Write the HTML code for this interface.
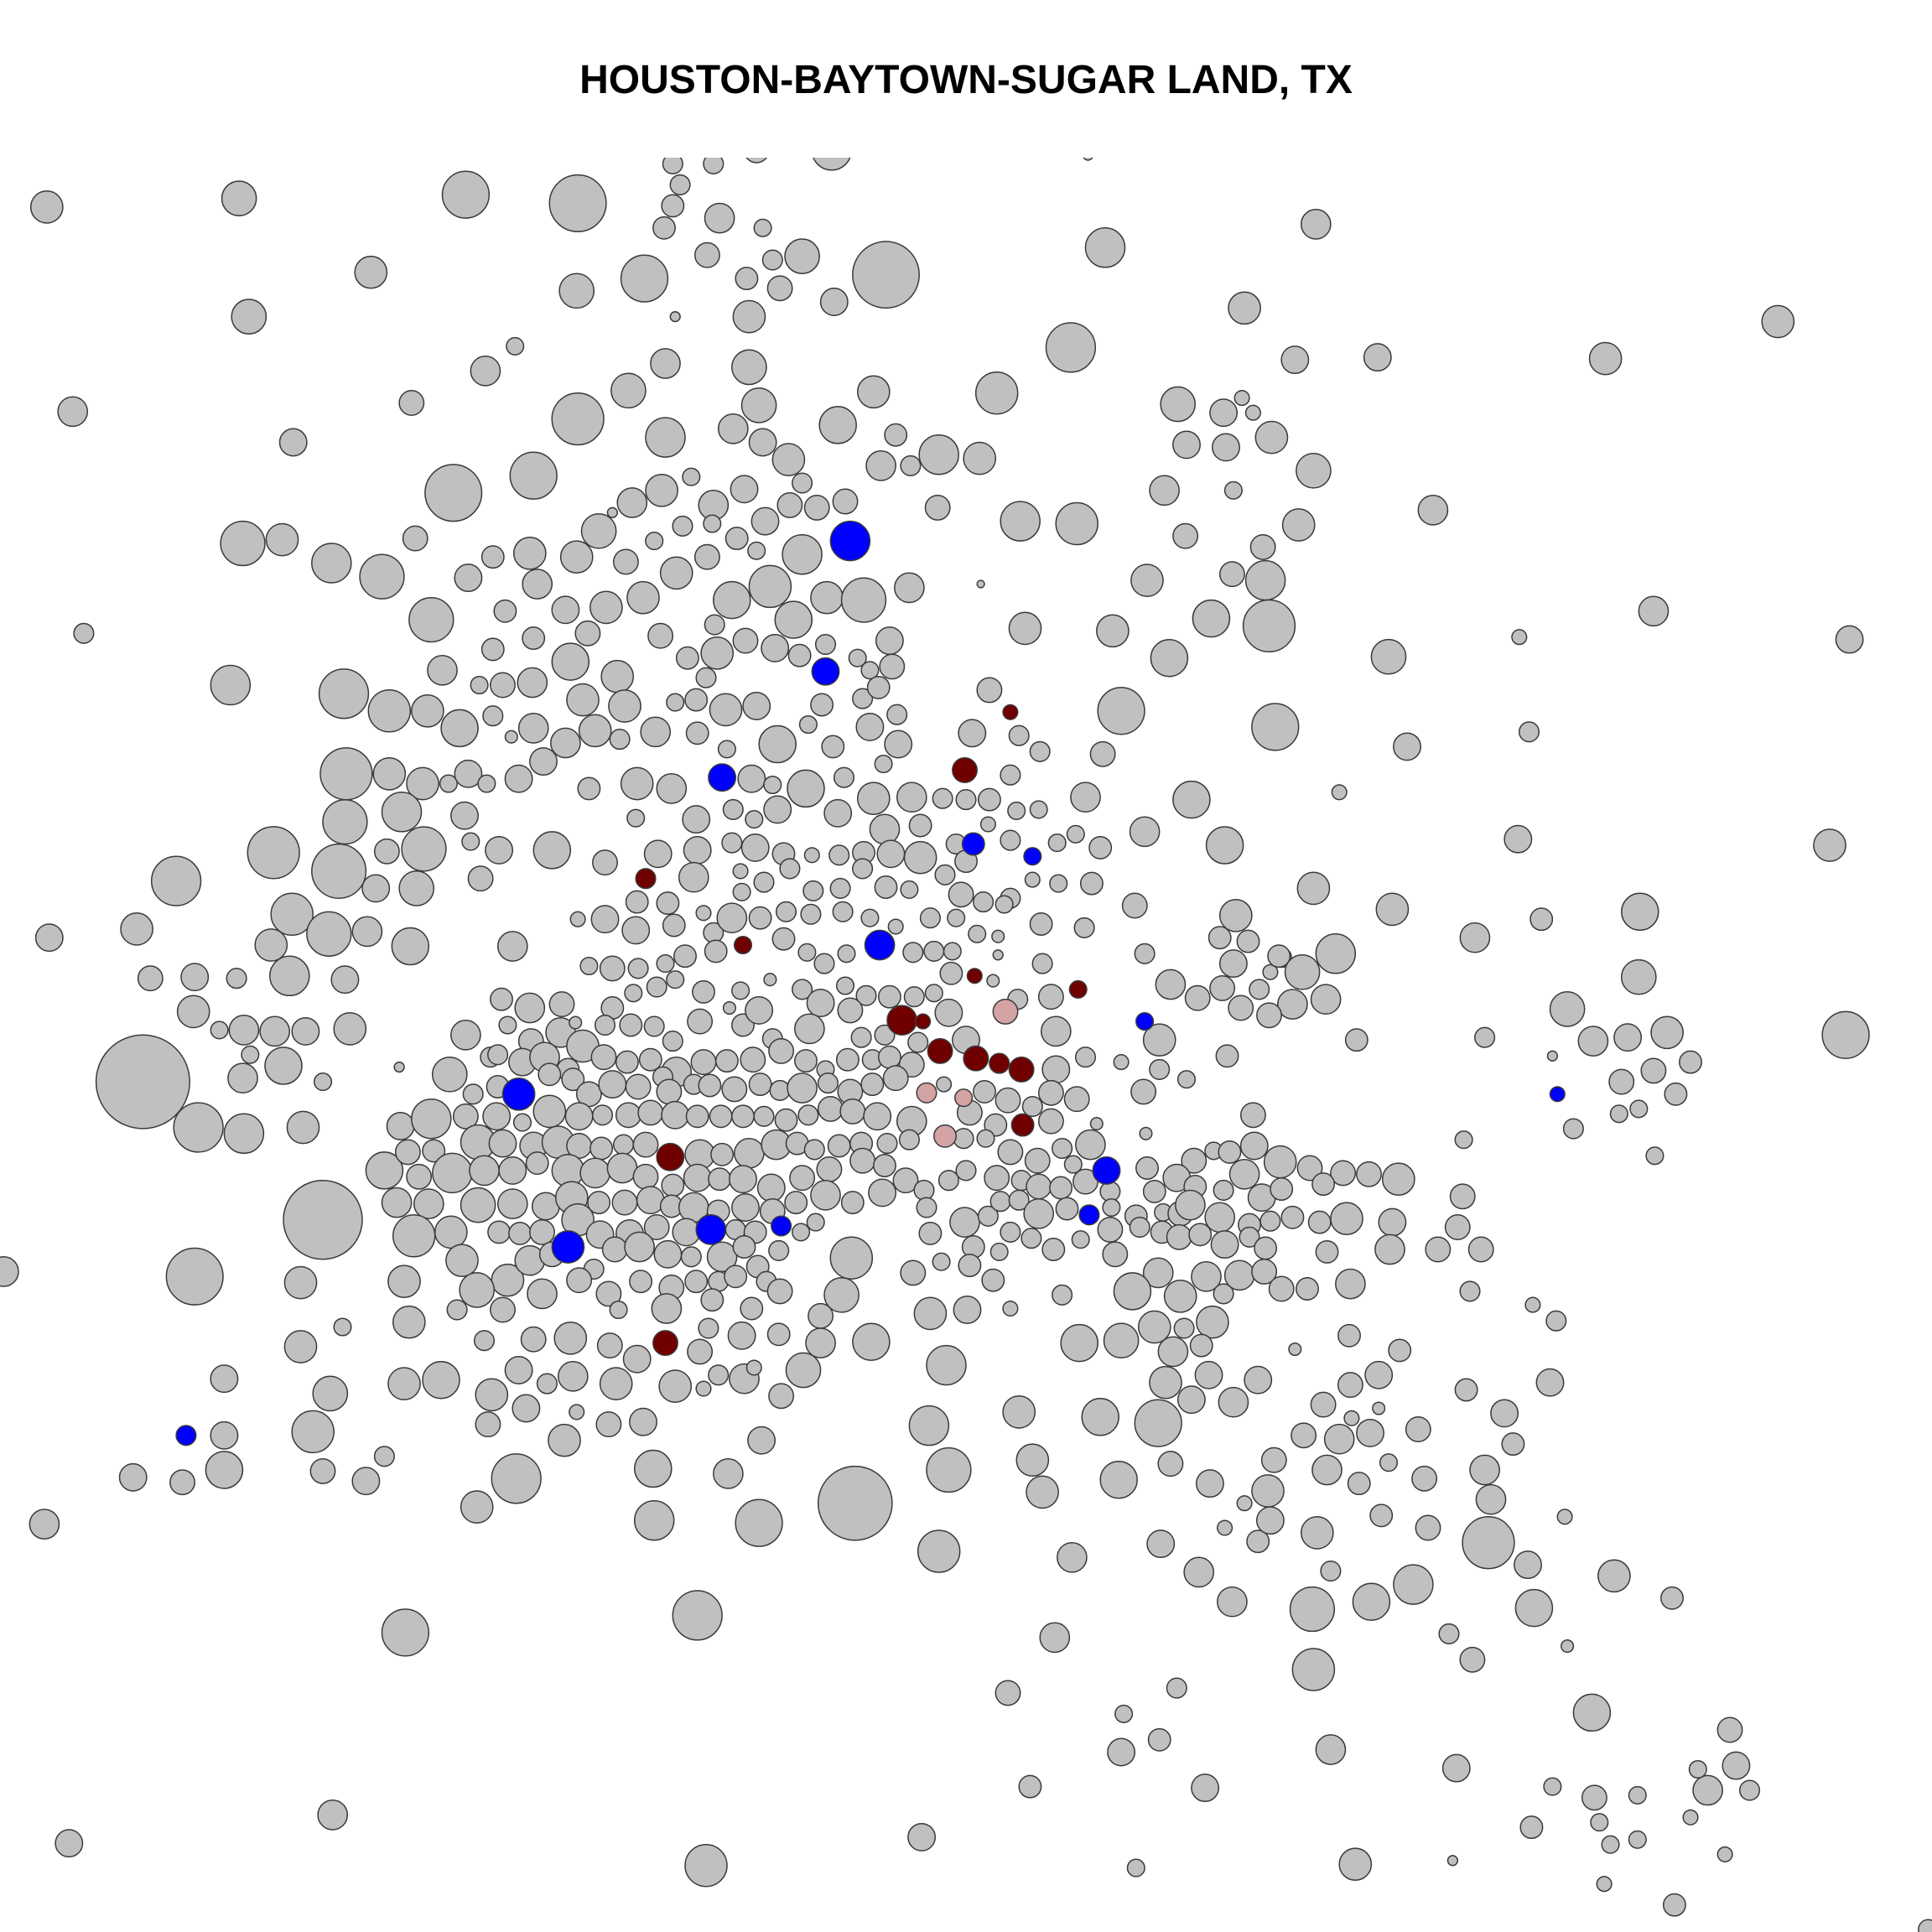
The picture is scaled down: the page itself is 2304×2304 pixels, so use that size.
<!DOCTYPE html>
<html><head><meta charset="utf-8">
<style>
html,body{margin:0;padding:0;background:#fff;}
#wrap{position:relative;width:2304px;height:2304px;overflow:hidden;}
#title{position:absolute;left:0;top:68px;width:2304px;text-align:center;font-family:"Liberation Sans",sans-serif;font-weight:bold;font-size:48px;color:#000;}
svg{position:absolute;left:0;top:0;}
</style></head>
<body>
<div id="wrap">
<div id="title">HOUSTON-BAYTOWN-SUGAR LAND, TX</div>
<svg id="plot" width="2304" height="2304">
<defs><clipPath id="pc"><rect x="0" y="188" width="2304" height="2116"/></clipPath></defs>
<g id="marks" clip-path="url(#pc)"></g>
</svg>
</div>
<script>
// bubbles: [x, y, size, group]  (g=gray, b=blue, r=dark red, p=pink)
const bubbles = [
[883,126,4,'g'],
[38,168,13,'g'],[194,161,14,'g'],[378,158,19,'g'],[469,165,23,'g'],[546,133,8,'g'],[579,133,8,'g'],[614,122,10,'g'],[675,122,16,'g'],[552,150,8,'g'],[546,167,9,'g'],[539,185,9,'g'],[584,177,12,'g'],[619,185,7,'g'],[301,221,13,'g'],[468,236,14,'g'],[523,226,19,'g'],[574,207,10,'g'],[606,226,9,'g'],[627,211,8,'g'],[651,208,14,'g'],[633,234,10,'g'],[719,223,27,'g'],[677,245,11,'g'],[897,201,16,'g'],[1068,182,12,'g'],[202,257,14,'g'],[548,257,4,'g'],[608,257,13,'g'],[1010,250,13,'g'],[1443,261,13,'g'],[418,281,7,'g'],[394,301,12,'g'],[540,295,12,'g'],[608,298,14,'g'],[869,282,20,'g'],[1051,292,11,'g'],[1118,290,11,'g'],[1303,291,13,'g'],[59,334,12,'g'],[334,327,10,'g'],[469,340,21,'g'],[510,317,14,'g'],[616,329,14,'g'],[709,318,13,'g'],[809,319,17,'g'],[956,328,14,'g'],[993,335,11,'g'],[1008,323,6,'g'],[1017,335,6,'g'],[238,359,11,'g'],[540,355,16,'g'],[595,348,12,'g'],[619,359,11,'g'],[680,345,15,'g'],[727,353,9,'g'],[762,369,16,'g'],[795,372,13,'g'],[963,361,11,'g'],[995,363,11,'g'],[1032,355,13,'g'],[368,400,23,'g'],[433,386,19,'g'],[561,387,7,'g'],[640,373,13,'g'],[651,392,8,'g'],[715,378,12,'g'],[739,378,8,'g'],[1066,382,14,'g'],[945,398,12,'g'],[1001,398,7,'g'],[1163,414,12,'g'],[197,441,18,'g'],[229,438,13,'g'],[337,437,10,'g'],[497,416,4,'g'],[513,408,12,'g'],[537,398,13,'g'],[579,410,12,'g'],[604,397,11,'g'],[621,423,11,'g'],[641,410,10,'g'],[663,412,10,'g'],[686,407,10,'g'],[761,412,10,'g'],[828,423,16,'g'],[874,425,17,'g'],[269,457,16,'g'],[310,468,18,'g'],[380,469,11,'g'],[400,452,9,'g'],[430,449,13,'g'],[468,452,13,'g'],[486,431,14,'g'],[508,456,10,'g'],[531,439,7,'g'],[554,427,8,'g'],[578,425,7,'g'],[598,437,9,'g'],[614,447,7,'g'],[651,450,16,'g'],[962,435,10,'g'],[1025,444,10,'g'],[1054,426,13,'g'],[796,474,3,'g'],[350,503,18,'g'],[410,496,9,'g'],[436,474,12,'g'],[459,495,11,'g'],[492,493,13,'g'],[522,485,13,'g'],[549,465,13,'g'],[574,452,10,'g'],[594,487,15,'g'],[625,476,17,'g'],[644,503,15,'g'],[671,485,13,'g'],[701,487,18,'g'],[738,477,12,'g'],[931,471,13,'g'],[1000,466,10,'g'],[1027,471,16,'g'],[1342,496,12,'g'],[68,514,8,'g'],[359,544,12,'g'],[400,527,9,'g'],[433,518,9,'g'],[463,537,15,'g'],[477,514,10,'g'],[501,549,13,'g'],[536,516,10,'g'],[558,534,9,'g'],[580,507,8,'g'],[582,530,13,'g'],[605,520,10,'g'],[629,526,11,'g'],[649,532,9,'g'],[670,523,8,'g'],[696,534,7,'g'],[722,520,11,'g'],[724,541,10,'g'],[706,544,7,'g'],[832,510,13,'g'],[903,512,13,'g'],[949,534,15,'g'],[983,502,15,'g'],[1030,508,21,'g'],[1127,533,14,'g'],[1233,517,6,'g'],[1501,519,11,'g'],[187,556,16,'g'],[279,563,20,'g'],[316,577,17,'g'],[347,577,13,'g'],[373,591,15,'g'],[389,556,7,'g'],[408,556,10,'g'],[432,554,12,'g'],[400,581,8,'g'],[433,591,12,'g'],[473,568,13,'g'],[507,573,13,'g'],[548,570,7,'g'],[565,568,9,'g'],[589,576,13,'g'],[573,550,8,'g'],[614,573,11,'g'],[667,572,9,'g'],[700,567,8,'g'],[713,558,9,'g'],[728,580,8,'g'],[803,560,10,'g'],[910,577,19,'g'],[1035,590,19,'g'],[1241,594,8,'g'],[415,598,5,'g'],[459,603,12,'g'],[483,593,13,'g'],[503,600,8,'g'],[532,594,12,'g'],[566,595,9,'g'],[590,608,7,'g'],[631,604,15,'g'],[656,588,7,'g'],[676,606,9,'g'],[706,590,11,'g'],[729,604,11,'g'],[789,595,11,'g'],[827,597,8,'g'],[844,610,8,'g'],[895,612,10,'g'],[1142,606,11,'g'],[281,628,21,'g'],[316,628,13,'g'],[343,636,13,'g'],[364,636,7,'g'],[380,628,11,'g'],[395,636,7,'g'],[421,632,11,'g'],[441,618,11,'g'],[478,640,9,'g'],[517,636,13,'g'],[545,640,12,'g'],[610,632,11,'g'],[627,637,7,'g'],[654,640,15,'g'],[685,631,8,'g'],[717,620,7,'g'],[820,629,8,'g'],[881,647,12,'g'],[1087,643,6,'g'],[222,692,21,'g'],[143,715,20,'g'],[280,667,18,'g'],[326,659,16,'g'],[377,662,11,'g'],[344,689,18,'g'],[314,691,10,'g'],[382,683,7,'g'],[405,690,11,'g'],[448,690,15,'g'],[491,700,10,'g'],[516,664,7,'g'],[534,693,11,'g'],[565,665,11,'g'],[595,657,8,'g'],[566,690,11,'g'],[594,684,8,'g'],[612,665,7,'g'],[631,657,11,'g'],[613,688,11,'g'],[636,693,9,'g'],[659,694,6,'g'],[680,660,11,'g'],[681,694,8,'g'],[701,692,9,'g'],[709,648,13,'g'],[740,647,12,'g'],[765,648,8,'g'],[784,649,8,'g'],[803,649,9,'g'],[825,658,7,'g'],[843,657,7,'g'],[718,673,12,'g'],[747,670,9,'g'],[747,696,13,'g'],[776,685,8,'g'],[802,669,6,'g'],[820,682,8,'g'],[858,684,7,'g'],[873,677,7,'g'],[893,688,9,'g'],[929,675,12,'g'],[967,649,15,'g'],[994,686,15,'g'],[1232,681,11,'g'],[1485,686,13,'g'],[275,707,22,'g'],[305,721,11,'g'],[338,721,14,'g'],[390,713,10,'g'],[237,742,17,'g'],[267,758,18,'g'],[298,756,12,'g'],[517,732,9,'g'],[542,733,9,'g'],[563,712,12,'g'],[601,707,6,'g'],[602,724,7,'g'],[620,716,8,'g'],[641,705,8,'g'],[660,723,8,'g'],[682,721,8,'g'],[700,705,8,'g'],[719,720,9,'g'],[738,722,7,'g'],[723,693,11,'g'],[767,710,8,'g'],[784,699,9,'g'],[780,726,10,'g'],[798,732,8,'g'],[820,729,8,'g'],[838,714,6,'g'],[859,717,7,'g'],[886,717,9,'g'],[921,735,10,'g'],[1066,721,13,'g'],[1130,738,13,'g'],[1331,740,15,'g'],[111,754,13,'g'],[40,761,11,'g'],[469,746,6,'g'],[491,746,11,'g'],[516,755,11,'g'],[547,751,9,'g'],[571,741,6,'g'],[579,757,8,'g'],[594,745,12,'g'],[617,745,9,'g'],[638,740,8,'g'],[658,742,8,'g'],[684,740,8,'g'],[706,745,7,'g'],[727,752,6,'g'],[755,745,8,'g'],[776,745,7,'g'],[793,758,7,'g'],[815,734,7,'g'],[845,750,9,'g'],[880,753,8,'g'],[1003,743,13,'g'],[1197,761,12,'g'],[1251,746,9,'g'],[220,767,13,'g'],[333,768,15,'g'],[416,768,12,'g'],[478,784,7,'g'],[497,786,10,'g'],[518,786,8,'g'],[540,782,7,'g'],[556,776,9,'g'],[581,772,9,'g'],[636,762,9,'g'],[655,773,7,'g'],[669,782,8,'g'],[687,774,7,'g'],[741,773,8,'g'],[758,772,8,'g'],[773,772,7,'g'],[810,760,5,'g'],[810,775,4,'g'],[846,782,8,'g'],[929,774,8,'g'],[990,761,9,'g'],[1013,764,9,'g'],[1040,777,8,'g'],[1084,774,16,'g'],[122,794,10,'g'],[158,793,11,'g'],[192,794,8,'g'],[235,792,16,'g'],[280,795,11,'g'],[157,821,13,'g'],[178,836,7,'g'],[198,836,12,'g'],[223,837,12,'g'],[248,837,11,'g'],[284,835,13,'g'],[407,811,9,'g'],[430,818,12,'g'],[456,815,10,'g'],[497,818,9,'g'],[514,806,7,'g'],[533,801,8,'g'],[548,795,7,'g'],[571,805,9,'g'],[601,804,7,'g'],[625,795,5,'g'],[651,803,8,'g'],[666,814,11,'g'],[686,800,7,'g'],[703,808,8,'g'],[722,809,9,'g'],[742,809,8,'g'],[758,806,7,'g'],[772,790,9,'g'],[806,796,5,'g'],[826,811,8,'g'],[853,809,10,'g'],[950,799,12,'g'],[972,810,10,'g'],[992,802,10,'g'],[1001,782,11,'g'],[1022,803,8,'g'],[1031,789,6,'g'],[1038,776,9,'g'],[1057,789,14,'g'],[1049,815,12,'g'],[1076,811,12,'g'],[1007,818,10,'g'],[1030,824,10,'g'],[1272,819,14,'g'],[1330,793,14,'g'],[1498,840,19,'g'],[203,856,7,'g'],[230,865,15,'g'],[262,878,7,'g'],[197,875,12,'g'],[116,878,38,'g'],[161,915,20,'g'],[198,920,16,'g'],[246,915,13,'g'],[324,866,4,'g'],[378,840,12,'g'],[398,858,8,'g'],[412,832,7,'g'],[431,845,10,'g'],[455,838,12,'g'],[467,830,5,'g'],[473,849,13,'g'],[491,832,8,'g'],[512,832,9,'g'],[531,833,8,'g'],[546,845,8,'g'],[568,829,10,'g'],[592,818,5,'g'],[603,832,9,'g'],[616,820,11,'g'],[627,843,8,'g'],[657,835,12,'g'],[690,820,10,'g'],[699,842,8,'g'],[718,840,8,'g'],[770,822,11,'g'],[784,844,11,'g'],[857,837,12,'g'],[941,844,13,'g'],[1101,844,9,'g'],[1205,842,8,'g'],[1293,845,12,'g'],[1321,842,11,'g'],[1353,838,13,'g'],[1372,862,9,'g'],[1260,857,4,'g'],[996,857,9,'g'],[1342,869,10,'g'],[1316,878,10,'g'],[1360,888,9,'g'],[1314,904,7,'g'],[1330,900,7,'g'],[1277,916,8,'g'],[1343,938,7,'g'],[1188,925,7,'g'],[1017,905,10,'g'],[930,920,5,'g'],
[404,856,8,'g'],[424,862,11,'g'],[442,858,12,'g'],[461,868,9,'g'],[490,858,10,'g'],[509,862,9,'g'],[528,860,9,'g'],[549,870,12,'g'],[571,862,10,'g'],[590,861,9,'g'],[611,860,10,'g'],[634,853,10,'g'],[654,861,9,'g'],[670,868,7,'g'],[688,860,9,'g'],[708,860,8,'g'],[722,858,9,'g'],[745,846,8,'g'],[740,864,10,'g'],[857,868,11,'g'],[881,858,8,'g'],[910,862,6,'g'],[963,876,7,'g'],[941,868,8,'g'],
[365,872,14,'g'],[384,888,8,'g'],[404,882,9,'g'],[446,872,9,'g'],[465,876,9,'g'],[478,888,10,'g'],[497,880,11,'g'],[518,882,10,'g'],[538,874,8,'g'],[543,886,10,'g'],[563,880,8,'g'],[576,881,9,'g'],[596,884,10,'g'],[617,880,9,'g'],[633,885,8,'g'],[651,883,12,'g'],[672,879,8,'g'],[690,886,10,'g'],[708,880,9,'g'],[727,875,10,'g'],[766,880,6,'g'],[799,886,9,'g'],[818,893,10,'g'],[838,898,8,'g'],[853,887,10,'g'],[874,892,10,'g'],[928,886,10,'g'],
[325,914,11,'g'],[350,908,16,'g'],[378,906,10,'g'],[403,906,11,'g'],[424,911,7,'g'],[446,902,13,'g'],[470,906,11,'g'],[489,905,8,'g'],[510,905,10,'g'],[528,903,10,'g'],[548,905,11,'g'],[566,906,9,'g'],[585,906,9,'g'],[603,906,9,'g'],[620,906,8,'g'],[638,909,9,'g'],[656,905,8,'g'],[674,900,10,'g'],[692,902,10,'g'],[712,906,11,'g'],[740,910,12,'g'],[787,903,10,'g'],[808,913,9,'g'],[853,910,10,'g'],[890,912,5,'g'],
[312,950,15,'g'],[331,935,10,'g'],[352,934,9,'g'],[367,952,16,'g'],[388,927,14,'g'],[408,928,11,'g'],[433,930,11,'g'],[453,927,13,'g'],[470,930,10,'g'],[488,932,9,'g'],[506,929,8,'g'],[524,929,10,'g'],[568,937,12,'g'],[586,937,9,'g'],[608,936,12,'g'],[630,929,12,'g'],[647,928,9,'g'],[661,933,8,'g'],[681,930,9,'g'],[699,928,9,'g'],[720,928,8,'g'],[738,925,8,'g'],[782,924,8,'g'],[800,924,7,'g'],[820,935,10,'g'],[842,942,10,'g'],[862,932,8,'g'],[885,929,12,'g'],[871,945,7,'g'],[931,948,9,'g'],[969,942,10,'g'],[985,934,7,'g'],[998,935,9,'g'],[1018,930,11,'g'],[1039,943,13,'g'],[1063,948,10,'g'],[1090,952,10,'g'],[1111,953,10,'g'],[1135,957,13,'g'],
[340,955,10,'g'],[393,950,12,'g'],[416,950,11,'g'],[436,944,9,'g'],[461,950,13,'g'],[483,952,12,'g'],[505,948,12,'g'],[524,955,10,'g'],[546,962,9,'g'],[566,956,11,'g'],[584,957,9,'g'],[603,957,11,'g'],[626,964,11,'g'],[651,956,10,'g'],[673,949,10,'g'],[700,942,10,'g'],[718,946,9,'g'],[735,958,10,'g'],[750,966,8,'g'],[770,958,8,'g'],[784,950,8,'g'],[809,956,10,'g'],[829,958,8,'g'],[843,963,10,'g'],[861,964,9,'g'],[881,959,10,'g'],[901,967,8,'g'],[937,967,9,'g'],[955,956,11,'g'],[970,963,9,'g'],[993,966,8,'g'],[1010,953,12,'g'],[1024,972,11,'g'],[1040,965,9,'g'],[1074,961,9,'g'],[1187,971,10,'g'],
[322,976,12,'g'],[348,977,12,'g'],[388,978,14,'g'],[416,977,12,'g'],[443,979,11,'g'],[464,972,13,'g'],[486,976,9,'g'],[507,976,10,'g'],[528,974,11,'g'],[545,979,9,'g'],[563,980,12,'g'],[583,983,9,'g'],[605,980,11,'g'],[627,983,10,'g'],[646,976,9,'g'],[670,970,12,'g'],[692,976,9,'g'],[716,968,11,'g'],[752,980,8,'g'],[783,992,12,'g'],[802,987,8,'g'],[812,975,8,'g'],[827,974,8,'g'],[843,985,12,'g'],[866,981,9,'g'],[902,980,7,'g'],[922,987,9,'g'],[944,984,7,'g'],[958,985,10,'g'],[966,978,12,'g'],[990,988,12,'g'],[1014,994,9,'g'],[1031,991,8,'g'],[1049,988,9,'g'],[1071,992,9,'g'],[1093,989,13,'g'],[1130,992,11,'g'],[1183,996,10,'g'],
[336,1003,17,'g'],[366,1000,13,'g'],[405,1000,9,'g'],[422,1001,9,'g'],[440,1000,10,'g'],[469,990,13,'g'],[487,1002,11,'g'],[511,1001,11,'g'],[533,996,10,'g'],[557,1000,11,'g'],[597,998,8,'g'],[613,1000,9,'g'],[650,1000,7,'g'],[662,992,7,'g'],[755,1001,9,'g'],[790,1012,9,'g'],[820,1000,8,'g'],[837,1005,8,'g'],[855,1014,9,'g'],[877,1006,7,'g'],[901,998,10,'g'],[925,996,8,'g'],[943,1000,9,'g'],[957,1004,10,'g'],[974,1002,9,'g'],[994,1010,11,'g'],[1014,1004,8,'g'],[1027,1013,9,'g'],[1077,1016,9,'g'],[1128,1014,12,'g'],[1167,1014,10,'g'],[1202,1014,10,'g'],
[328,1040,13,'g'],[375,1023,13,'g'],[412,1039,13,'g'],[430,1023,12,'g'],[448,1018,10,'g'],[482,1030,8,'g'],[499,1014,10,'g'],[519,1012,12,'g'],[542,1018,11,'g'],[561,1020,8,'g'],[586,1020,12,'g'],[604,1012,9,'g'],[615,1028,9,'g'],[632,1015,8,'g'],[691,1021,17,'g'],[741,1033,10,'g'],[764,1024,7,'g'],[787,1027,9,'g'],[806,1039,9,'g'],[811,1016,7,'g'],[905,1018,10,'g'],[940,1033,12,'g'],[979,1036,12,'g'],[1006,1035,12,'g'],[1026,1032,10,'g'],[1061,1046,9,'g'],[1096,1042,12,'g'],
[244,1041,13,'g'],[387,1047,14,'g'],[440,1050,12,'g'],[470,1039,10,'g'],[494,1050,10,'g'],[520,1040,9,'g'],[545,1045,10,'g'],[565,1040,9,'g'],[583,1040,8,'g'],[597,1036,9,'g'],[622,1040,8,'g'],[633,1048,10,'g'],[683,1051,14,'g'],[919,1048,15,'g'],[958,1052,13,'g'],[993,1050,8,'g'],[1040,1046,10,'g'],[1193,1048,8,'g'],[862,1051,8,'g'],
[3,1032,12,'g'],[158,1036,23,'g'],[262,990,32,'g'],[278,1077,7,'g'],[332,1073,13,'g'],[371,1063,8,'g'],[408,1063,10,'g'],[502,1063,7,'g'],[541,1062,12,'g'],[578,1055,9,'g'],[610,1062,9,'g'],[666,1068,10,'g'],[755,1066,13,'g'],[785,1063,11,'g'],[820,1062,6,'g'],[937,1077,13,'g'],[961,1078,8,'g'],[984,1073,13,'g'],[1244,1059,6,'g'],[1263,1072,8,'g'],
[244,1093,13,'g'],[393,1088,8,'g'],[433,1087,10,'g'],[463,1086,13,'g'],[495,1092,10,'g'],[517,1103,11,'g'],[568,1097,10,'g'],[575,1078,8,'g'],[602,1084,11,'g'],[632,1083,9,'g'],[666,1090,12,'g'],[707,1089,15,'g'],[876,1090,15,'g'],[910,1088,14,'g'],[952,1097,12,'g'],[975,1092,9,'g'],[1051,1095,5,'g'],[1095,1084,9,'g'],[1136,1096,9,'g'],
[182,1119,11,'g'],[328,1123,13,'g'],[358,1120,15,'g'],[399,1132,13,'g'],[421,1112,11,'g'],[444,1123,8,'g'],[465,1117,12,'g'],[500,1123,13,'g'],[548,1125,13,'g'],[571,1127,6,'g'],[583,1116,8,'g'],[604,1119,12,'g'],[612,1110,6,'g'],[634,1133,10,'g'],[652,1112,14,'g'],[768,1108,16,'g'],[946,1122,13,'g'],[967,1136,11,'g'],[981,1116,11,'g'],[1001,1138,12,'g'],[1021,1120,11,'g'],[1074,1140,10,'g'],[1096,1124,10,'g'],[1119,1116,11,'g'],[1190,1128,9,'g'],[1258,1122,11,'g'],
[182,1165,11,'g'],[268,1131,14,'g'],[254,1162,17,'g'],[396,1156,10,'g'],[427,1143,11,'g'],[468,1146,6,'g'],[494,1156,10,'g'],[522,1154,11,'g'],[618,1169,11,'g'],[754,1157,16,'g'],[827,1146,13,'g'],[893,1150,15,'g'],[940,1155,19,'g'],[1058,1165,10,'g'],[1087,1168,12,'g'],[1097,1151,6,'g'],[1119,1143,5,'g'],[1112,1163,11,'g'],[1151,1160,10,'g'],[1221,1147,11,'g'],[1228,1172,9,'g'],
[108,1199,11,'g'],[148,1203,10,'g'],[182,1193,15,'g'],[262,1194,10,'g'],[297,1202,11,'g'],[312,1182,8,'g'],[419,1200,20,'g'],[458,1169,13,'g'],[530,1192,15,'g'],[591,1196,12,'g'],[770,1193,18,'g'],[838,1185,13,'g'],[846,1211,13,'g'],[908,1201,15,'g'],[950,1188,10,'g'],[982,1204,11,'g'],[1034,1185,10,'g'],[1029,1210,13,'g'],[1077,1193,12,'g'],[1103,1204,9,'g'],[1127,1187,7,'g'],[1156,1200,10,'g'],[1205,1193,12,'g'],[1210,1217,12,'g'],[1010,1220,6,'g'],[1121,1230,9,'g'],
[36,1237,12,'g'],[387,1223,13,'g'],[531,1234,16,'g'],[616,1236,19,'g'],[694,1220,30,'g'],[762,1259,17,'g'],[870,1264,12,'g'],[942,1253,11,'g'],[994,1240,6,'g'],[1021,1251,9,'g'],[1031,1234,11,'g'],[1069,1244,13,'g'],[1159,1240,10,'g'],[1208,1252,21,'g'],[1270,1231,6,'g'],[1240,1270,11,'g'],[973,1276,12,'g'],[1080,1275,8,'g'],[1113,1300,15,'g'],[1147,1286,16,'g'],[1310,1279,13,'g'],[1357,1297,9,'g'],[1065,1306,18,'g'],[1000,1300,12,'g'],[1245,1305,15,'g'],[329,1325,19,'g'],[566,1311,20,'g'],[856,1329,12,'g'],[1176,1326,8,'g'],[1272,1336,5,'g'],[1195,1347,10,'g'],[1066,1355,17,'g'],[818,1374,10,'g'],[955,1370,8,'g'],[912,1391,7,'g'],[1292,1390,15,'g'],[941,1412,9,'g'],[910,1422,11,'g'],[1080,1420,12,'g'],[1404,1404,10,'g'],[1182,1435,11,'g'],[836,1450,9,'g'],[978,1451,11,'g'],[1260,1450,7,'g'],[1294,1459,10,'g'],[1329,1457,7,'g'],[1386,1453,12,'g'],[1409,1433,11,'g'],[1420,1453,8,'g'],[1378,1436,7,'g'],[270,1473,12,'g'],[56,1496,11,'g'],[748,1491,11,'g'],[1243,1483,9,'g'],[1298,1479,7,'g'],[1307,1497,7,'g'],[1329,1493,7,'g'],[1372,1475,6,'g'],[573,1514,17,'g'],[922,1516,7,'g'],[1100,1513,13,'g'],[1179,1510,4,'g'],[1400,1505,6,'g'],[1302,1529,6,'g'],[1359,1546,9,'g'],[1565,1566,8,'g'],
// blue
[690,439,16,'b'],[670,545,11,'b'],[586,631,11,'b'],[790,685,9,'b'],[838,695,7,'b'],[714,767,12,'b'],[929,829,7,'b'],[1264,888,6,'b'],[421,888,13,'b'],[898,950,11,'b'],[884,986,8,'b'],[461,1012,13,'b'],[577,998,12,'b'],[634,995,8,'b'],[151,1165,8,'b'],
// dark red
[820,578,6,'r'],[783,625,10,'r'],[524,713,8,'r'],[603,767,7,'r'],[791,792,6,'r'],[875,803,7,'r'],[732,828,12,'r'],[749,829,6,'r'],[763,853,10,'r'],[792,859,10,'r'],[811,863,8,'r'],[829,868,10,'r'],[830,913,9,'r'],[544,939,11,'r'],[540,1090,10,'r'],
// pink
[816,821,10,'p'],[752,887,8,'p'],[782,891,7,'p'],[767,922,9,'p']
];
const lon = bubbles.map(b => b[0]);
const lat = bubbles.map(b => b[1]);
const sizes = bubbles.map(b => b[2]);
const groups = bubbles.map(b => b[3]);
const groupColors = {g:'#c0c0c0', b:'#0000ff', r:'#700000', p:'#d4a3a3'};

const S = 2304 / 1568;
function xScale(v){ return v * S; }
function yScale(v){ return v * S; }
function rScale(v){ return v * S; }

const layer = document.getElementById('marks');
const NS = 'http://www.w3.org/2000/svg';
const order = ['g','p','r','b'];
order.forEach(gr => {
  for (let i = 0; i < lon.length; i++) {
    if (groups[i] !== gr) continue;
    const c = document.createElementNS(NS, 'circle');
    c.setAttribute('cx', xScale(lon[i]).toFixed(1));
    c.setAttribute('cy', yScale(lat[i]).toFixed(1));
    c.setAttribute('r', rScale(sizes[i]).toFixed(1));
    c.setAttribute('fill', groupColors[gr]);
    c.setAttribute('stroke', '#3a3a3a');
    c.setAttribute('stroke-width', '1.5');
    
    
    layer.appendChild(c);
  }
});
</script>
</body></html>
